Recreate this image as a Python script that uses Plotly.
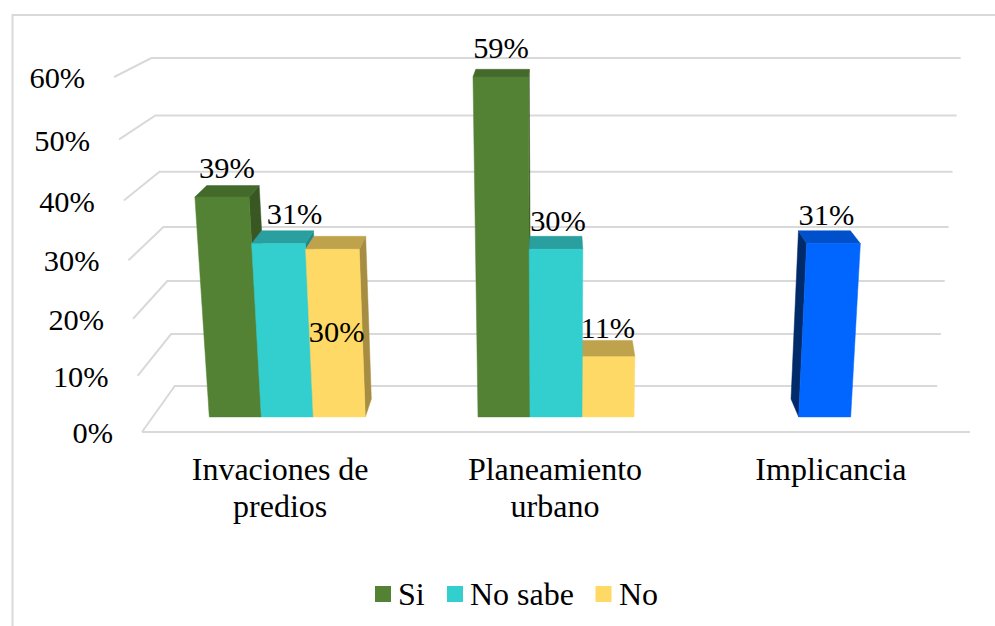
import plotly.graph_objects as go

category_lines = [["Invaciones de", "predios"], ["Planeamiento", "urbano"], ["Implicancia"]]
series_names = ["Si", "No sabe", "No"]
si_values = [39, 59, None]
no_sabe_values = [31, 30, 31]
no_values = [30, 11, None]
axis_ticks = [0, 10, 20, 30, 40, 50, 60]

W, H = 995, 626
FONT = "Liberation Serif"
TEXT = "#000000"
GRID = "#D9D9D9"
FS_NUM = 30.4
FS_CAT = 32

# colours per series: front, top, side
STYLE = {
    "Si": ("#548235", "#436A2A", "#385723"),
    "No sabe": ("#33CFCF", "#299F9F", "#1F8A8A"),
    "No": ("#FFD966", "#BFA24C", "#A68D42"),
}
BLUE = ("#0066FF", "#0050CC", "#002B6B")

Z_FRONT, Z_BACK = 0.31, 0.70
CAT_W = 268.7 / 806.5
BAR_W = 52 / 806.5
CENTER_X = 556


def project(s, pct, z):
    """Perspective map: s = centred width position, pct = value, z = depth 0..1."""
    y = pct / 60
    w = 1 - 0.063 * y + 0.086 * z
    return (CENTER_X + 828 * s / w, (432 - 359.85 * y - 12.8 * z) / w)


def poly(points, color):
    xs = [p[0] for p in points] + [points[0][0]]
    ys = [p[1] for p in points] + [points[0][1]]
    return go.Scatter(x=xs, y=ys, mode="lines", fill="toself", fillcolor=color,
                      line=dict(color=color, width=0.5), hoverinfo="skip", showlegend=False)


def text_trace(xs, ys, texts, position, size):
    return go.Scatter(x=xs, y=ys, text=texts, mode="text", textposition=position,
                      textfont=dict(family=FONT, size=size, color=TEXT),
                      hoverinfo="skip", showlegend=False)


fig = go.Figure()

# gridlines on floor/side wall/back wall
for t in axis_ticks:
    a = project(-0.5, t, 0)
    b = project(-0.5, t, 1)
    c = project(0.5, t, 1)
    fig.add_trace(go.Scatter(x=[a[0], b[0], c[0]], y=[a[1], b[1], c[1]], mode="lines",
                             line=dict(color=GRID, width=2), hoverinfo="skip", showlegend=False))
a = project(-0.5, 0, 0)
b = project(0.5, 0, 0)
fig.add_trace(go.Scatter(x=[a[0], b[0]], y=[a[1], b[1]], mode="lines",
                         line=dict(color=GRID, width=2), hoverinfo="skip", showlegend=False))

# bars
bars = []
for si, series in enumerate([si_values, no_sabe_values, no_values]):
    for ci, v in enumerate(series):
        if v is None:
            continue
        s0 = (ci - 1) * CAT_W + (si - 1.5) * BAR_W
        style = BLUE if ci == 2 else STYLE[series_names[si]]
        bars.append((abs(s0 + BAR_W / 2), s0, v, style))
bars.sort(key=lambda b: -b[0])

for _, s0, v, (front, top, side) in bars:
    s1 = s0 + BAR_W
    if s1 < 0:
        fig.add_trace(poly([project(s1, 0, Z_FRONT), project(s1, v, Z_FRONT),
                            project(s1, v, Z_BACK), project(s1, 0, Z_BACK)], side))
    elif s0 > 0:
        fig.add_trace(poly([project(s0, 0, Z_FRONT), project(s0, v, Z_FRONT),
                            project(s0, v, Z_BACK), project(s0, 0, Z_BACK)], side))
    fig.add_trace(poly([project(s0, v, Z_FRONT), project(s1, v, Z_FRONT),
                        project(s1, v, Z_BACK), project(s0, v, Z_BACK)], top))
    fig.add_trace(poly([project(s0, 0, Z_FRONT), project(s1, 0, Z_FRONT),
                        project(s1, v, Z_FRONT), project(s0, v, Z_FRONT)], front))

# value labels, offsets relative to the bar's top-back centre
LABEL_SHIFT = {
    (0, 0): (-6, -15), (1, 0): (7, -14), (2, 0): (-3, 98),
    (0, 1): (-1.5, -19), (1, 1): (2, -13), (2, 1): (1, -10),
    (1, 2): (2, -13),
}
lx, ly, lt = [], [], []
for si, series in enumerate([si_values, no_sabe_values, no_values]):
    for ci, v in enumerate(series):
        if v is None:
            continue
        sm = (ci - 1) * CAT_W + (si - 1) * BAR_W
        px, py = project(sm, v, Z_BACK)
        dx, dy = LABEL_SHIFT[(si, ci)]
        lx.append(px + dx)
        ly.append(py + dy)
        lt.append(f"{v}%")
fig.add_trace(text_trace(lx, ly, lt, "middle center", FS_NUM))

# value axis labels
tx, ty, tt = [], [], []
for t in axis_ticks:
    px, py = project(-0.5, t, 0)
    tx.append(px - 29)
    ty.append(py + 3.5)
    tt.append(f"{t}%")
fig.add_trace(text_trace(tx, ty, tt, "middle left", FS_NUM))

# category labels
CAT_SHIFT = [0, -1, -1]
CAT_LINE_Y = [472, 509]
cx, cy, ct = [], [], []
for ci, lines in enumerate(category_lines):
    px, _ = project((ci - 1) * CAT_W, 0, 0)
    for li, line in enumerate(lines):
        cx.append(px + CAT_SHIFT[ci])
        cy.append(CAT_LINE_Y[li])
        ct.append(line)
fig.add_trace(text_trace(cx, cy, ct, "middle center", FS_CAT))

# legend entries
LEGEND_MARK_X = [383, 455, 603.5]
LEGEND_TEXT_X = [398, 470, 619]
for i, name in enumerate(series_names):
    fig.add_trace(go.Scatter(x=[LEGEND_MARK_X[i]], y=[594], mode="markers", name=name,
                             marker=dict(symbol="square", size=16, color=STYLE[name][0]),
                             hoverinfo="skip", showlegend=False))
    fig.add_trace(text_trace([LEGEND_TEXT_X[i]], [597], [name], "middle right", FS_CAT))

fig.update_layout(
    width=W, height=H, margin=dict(l=0, r=0, t=0, b=0),
    paper_bgcolor="white", plot_bgcolor="white",
    xaxis=dict(range=[0, W], visible=False, fixedrange=True),
    yaxis=dict(range=[H, 0], visible=False, fixedrange=True),
    showlegend=False,
    shapes=[
        dict(type="line", xref="x", yref="y", x0=12, x1=W, y0=15, y1=15,
             line=dict(color=GRID, width=2), layer="below"),
        dict(type="line", xref="x", yref="y", x0=12.5, x1=12.5, y0=14, y1=H,
             line=dict(color=GRID, width=2), layer="below"),
    ],
)

fig.write_html("out.html", config={"displayModeBar": False},
               post_script="document.body.style.margin='0';document.documentElement.style.overflow='hidden';")
